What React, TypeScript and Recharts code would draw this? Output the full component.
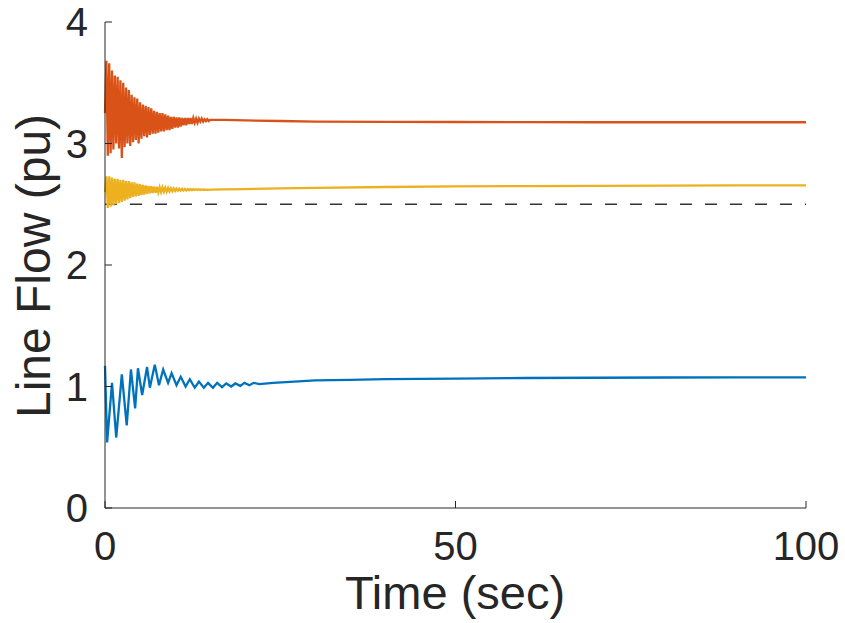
import React from 'react';
import { LineChart, Line, XAxis, YAxis, ReferenceLine, Label } from 'recharts';

// shared time grid for the two upper traces (sec)
const gridTime = [
  0, 0.2, 0.4, 0.6, 0.8, 1.0, 1.2, 1.4, 1.6, 1.8, 2.0, 2.2, 2.4, 2.6, 2.8, 3.0, 3.2, 3.4, 3.6, 3.8,
  4.0, 4.2, 4.4, 4.6, 4.8, 5.0, 5.2, 5.4, 5.6, 5.8, 6.0, 6.2, 6.4, 6.6, 6.8, 7.0, 7.2, 7.4, 7.6, 7.8,
  8.0, 8.2, 8.4, 8.6, 8.8, 9.0, 9.2, 9.4, 9.6, 9.8, 10.0, 10.2, 10.4, 10.6, 10.8, 11.0, 11.2, 11.4,
  11.6, 11.8, 12.0, 12.2, 12.4, 12.6, 12.8, 13.0, 13.2, 13.4, 13.6, 13.8, 14.0, 14.2, 14.4, 14.6,
  14.8, 15.0, 17, 20, 25, 30, 40, 50, 60, 70, 80, 90, 100,
];

const orangeFlow = [
  3.25, 3.68, 2.9, 3.66, 2.92, 3.6, 2.95, 3.56, 3.0, 3.55, 2.96, 3.52, 2.88, 3.5, 2.97, 3.46, 3.0, 3.44, 2.98, 3.4,
  3.01, 3.38, 3.03, 3.37, 3.0, 3.34, 3.04, 3.32, 3.06, 3.31, 3.05, 3.3, 3.07, 3.29, 3.08, 3.27, 3.08, 3.26, 3.09, 3.25,
  3.1, 3.25, 3.1, 3.24, 3.11, 3.23, 3.11, 3.22, 3.12, 3.22, 3.13, 3.215, 3.13, 3.215, 3.14, 3.21, 3.15, 3.21,
  3.15, 3.21, 3.16, 3.21, 3.16, 3.21, 3.17, 3.205, 3.17, 3.205, 3.18, 3.205, 3.18, 3.2, 3.185, 3.2,
  3.185, 3.195, 3.195, 3.19, 3.185, 3.18, 3.178, 3.177, 3.176, 3.175, 3.175, 3.175, 3.175,
];

const yellowFlow = [
  2.6, 2.73, 2.47, 2.73, 2.48, 2.72, 2.49, 2.71, 2.5, 2.71, 2.51, 2.7, 2.52, 2.7, 2.53, 2.69, 2.54, 2.69, 2.55, 2.68,
  2.56, 2.68, 2.565, 2.67, 2.57, 2.665, 2.575, 2.66, 2.58, 2.655, 2.585, 2.65, 2.59, 2.648, 2.592, 2.645, 2.595, 2.643, 2.597, 2.64,
  2.6, 2.638, 2.602, 2.636, 2.604, 2.634, 2.606, 2.632, 2.608, 2.63, 2.61, 2.629, 2.611, 2.628, 2.612, 2.627, 2.613, 2.626,
  2.614, 2.625, 2.615, 2.625, 2.616, 2.624, 2.617, 2.623, 2.617, 2.623, 2.618, 2.622, 2.618, 2.622, 2.619, 2.621,
  2.619, 2.62, 2.622, 2.625, 2.63, 2.635, 2.642, 2.647, 2.65, 2.652, 2.654, 2.655, 2.655,
];

// blue trace oscillates slower, so it gets its own peaks/troughs
const blueTime = [
  0, 0.3, 1.0, 1.6, 2.4, 3.1, 3.7, 4.3, 4.7, 5.3, 6.0, 6.4, 7.1, 7.7, 8.3, 9.0, 9.5, 10.2,
  10.8, 11.5, 12.1, 12.8, 13.4, 14.1, 14.7, 15.4, 16.0, 16.7, 17.3, 18.0, 18.6, 19.3, 19.9,
  20.6, 21.2, 22, 24, 27, 30, 35, 40, 50, 60, 70, 80, 90, 100,
];

const blueFlow = [
  1.17, 0.54, 1.03, 0.58, 1.1, 0.68, 1.14, 0.82, 1.15, 0.93, 1.16, 0.99, 1.18, 1.01, 1.14, 1.03, 1.11, 1.01,
  1.08, 1.0, 1.06, 0.99, 1.04, 0.99, 1.03, 0.99, 1.03, 0.995, 1.025, 1.0, 1.025, 1.005, 1.03,
  1.01, 1.03, 1.02, 1.03, 1.04, 1.05, 1.055, 1.06, 1.065, 1.07, 1.072, 1.074, 1.075, 1.075,
];

const flowLimit = 2.5;
const xTicks = [0, 50, 100];
const yTicks = [0, 1, 2, 3, 4];

const orangeData = gridTime.map((t, i) => ({ t, v: orangeFlow[i] }));
const yellowData = gridTime.map((t, i) => ({ t, v: yellowFlow[i] }));
const blueData = blueTime.map((t, i) => ({ t, v: blueFlow[i] }));

const ink = '#262626';
const font = '"Liberation Sans", Arial, Helvetica, sans-serif';

const XTick = ({ x, y, payload }: any) => (
  <g>
    <line x1={x} y1={y} x2={x} y2={y - 7} stroke={ink} strokeWidth={1} />
    <text x={x} y={y + 52} textAnchor="middle" fontSize={40} fontFamily={font} fill={ink}>
      {payload.value}
    </text>
  </g>
);

const YTick = ({ x, y, payload }: any) => (
  <g>
    <line x1={x} y1={y} x2={x + 7} y2={y} stroke={ink} strokeWidth={1} />
    <text x={x - 17} y={y + 14} textAnchor="end" fontSize={40} fontFamily={font} fill={ink}>
      {payload.value}
    </text>
  </g>
);

const XTitle = () => (
  <text x={455} y={609} textAnchor="middle" fontSize={47} fontFamily={font} fill={ink}>
    Time (sec)
  </text>
);

const YTitle = () => (
  <text
    x={0}
    y={0}
    transform="translate(50, 266) rotate(-90)"
    textAnchor="middle"
    fontSize={48}
    fontFamily={font}
    fill={ink}
  >
    Line Flow (pu)
  </text>
);

export default function App() {
  return (
    <div style={{ position: 'absolute', left: 0, top: 0, background: '#fff' }}>
      <LineChart width={845} height={623} margin={{ top: 22, right: 39, bottom: 0, left: 0 }}>
        <XAxis
          type="number"
          dataKey="t"
          domain={[0, 100]}
          ticks={xTicks}
          height={115}
          tickSize={0}
          tickMargin={0}
          tickLine={false}
          tick={<XTick />}
          stroke={ink}
          allowDuplicatedCategory={false}
        >
          <Label content={<XTitle />} />
        </XAxis>
        <YAxis
          type="number"
          domain={[0, 4]}
          ticks={yTicks}
          width={105}
          tickSize={0}
          tickMargin={0}
          tickLine={false}
          tick={<YTick />}
          stroke={ink}
        >
          <Label content={<YTitle />} />
        </YAxis>
        <ReferenceLine y={flowLimit} stroke="#333" strokeWidth={1.5} strokeDasharray="12 13" />
        <Line data={blueData} dataKey="v" type="linear" stroke="#0072BD" strokeWidth={2.3} dot={false} isAnimationActive={false} />
        <Line data={orangeData} dataKey="v" type="linear" stroke="#D95319" strokeWidth={2.3} dot={false} isAnimationActive={false} />
        <Line data={yellowData} dataKey="v" type="linear" stroke="#EDB120" strokeWidth={2.3} dot={false} isAnimationActive={false} />
      </LineChart>
    </div>
  );
}
